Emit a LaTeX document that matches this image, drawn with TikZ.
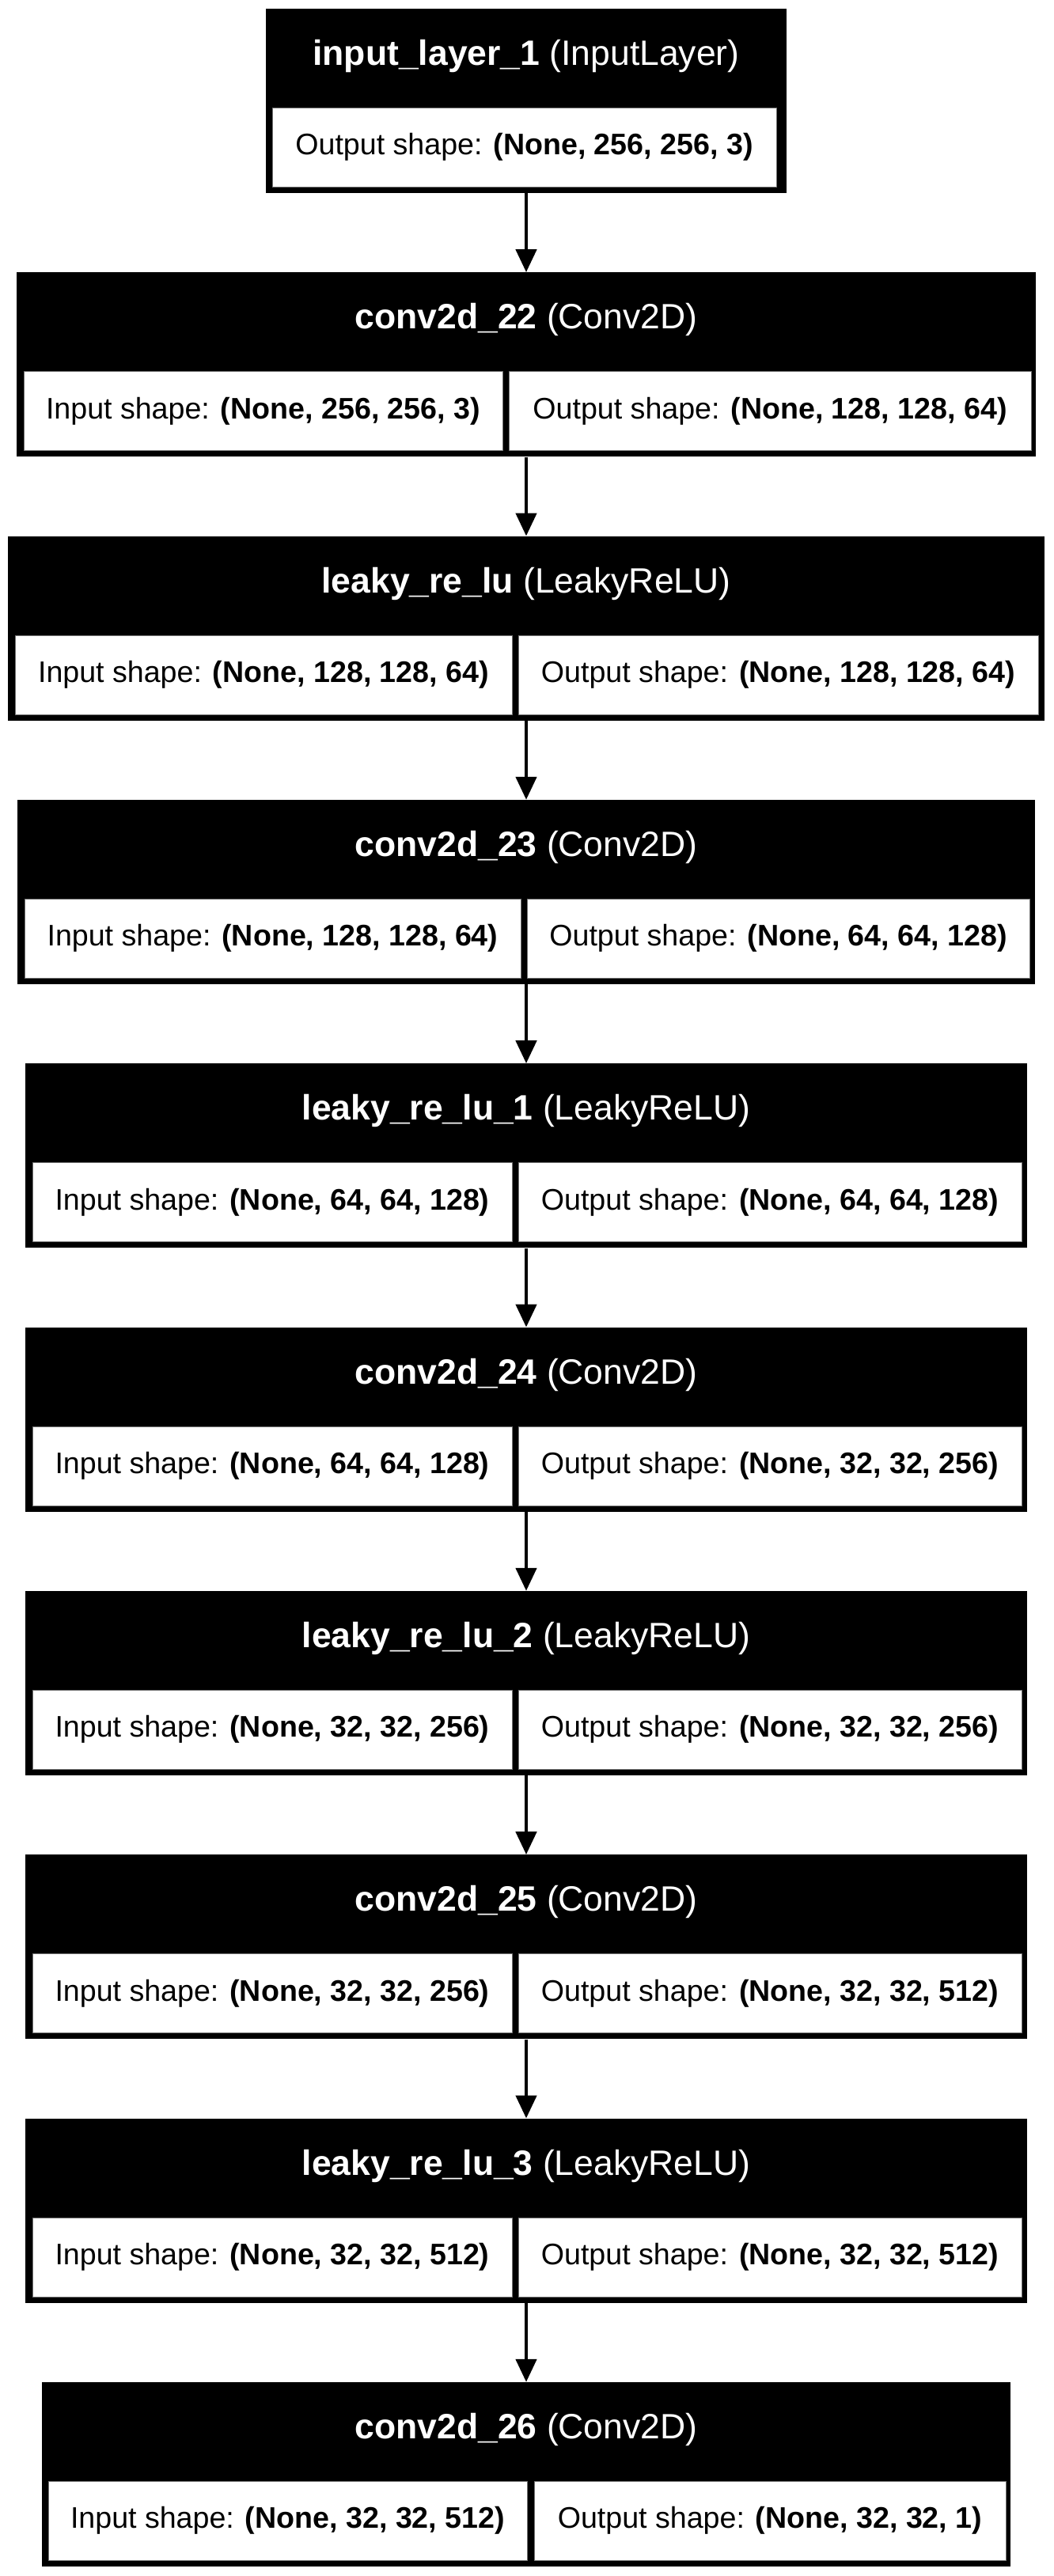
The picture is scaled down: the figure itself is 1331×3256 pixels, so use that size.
\documentclass[tikz,border=0pt]{standalone}
\usepackage{fontspec}
\setmainfont{Liberation Sans}
\usepackage{tikz}
\usetikzlibrary{arrows.meta, positioning}

\tikzset{
    x=1pt, y=-1pt,
    layerbox/.style={fill=black, inner sep=0pt, minimum height=233pt},
    headtext/.style={text=white, inner sep=0pt, anchor=base, font=\fontsize{44.5}{50}\selectfont},
    shapecell/.style={fill=white, draw=black!55, line width=1pt, inner sep=0pt,
        minimum height=100pt, text height=30pt, text depth=11.2pt, font=\fontsize{37.6}{44}\selectfont},
    seta/.style={-{Triangle[width=26pt,length=29pt]}, line width=4.7pt}
}

\begin{document}
\begin{tikzpicture}
    \fill[white] (0,0) rectangle (1331,3256);
    \useasboundingbox (0,0) rectangle (1331,3256);
    % Primeira camada:
    \begin{scope}
    \node[layerbox, minimum width=658pt] (l1) at (665,127.5) {};
    \node[headtext] (h1) at (665,82.6) {\textbf{input\_layer\_1} (InputLayer)};
    \node[shapecell, minimum width=637pt] (o1) at (662.5,186.3) {Output shape: \textbf{(None, 256, 256, 3)}};
    \end{scope}
    % Segunda camada:
    \begin{scope}[yshift=-333.3pt]
    \node[layerbox, minimum width=1288pt] (l2) at (665,127.5) {};
    \node[headtext] (h2) at (665,82.6) {\textbf{conv2d\_22} (Conv2D)};
    \node[shapecell, minimum width=605pt] (i2) at (332.5,186.3) {Input shape: \textbf{(None, 256, 256, 3)}};
    \node[shapecell, minimum width=660pt] (o2) at (973,186.3) {Output shape: \textbf{(None, 128, 128, 64)}};
    \end{scope}
    % Terceira camada:
    \begin{scope}[yshift=-666.7pt]
    \node[layerbox, minimum width=1310pt] (l3) at (665,127.5) {};
    \node[headtext] (h3) at (665,82.6) {\textbf{leaky\_re\_lu} (LeakyReLU)};
    \node[shapecell, minimum width=628pt] (i3) at (333,186.3) {Input shape: \textbf{(None, 128, 128, 64)}};
    \node[shapecell, minimum width=657pt] (o3) at (983.5,186.3) {Output shape: \textbf{(None, 128, 128, 64)}};
    \end{scope}
    % Quarta camada:
    \begin{scope}[yshift=-1000pt]
    \node[layerbox, minimum width=1286pt] (l4) at (665,127.5) {};
    \node[headtext] (h4) at (665,82.6) {\textbf{conv2d\_23} (Conv2D)};
    \node[shapecell, minimum width=627pt] (i4) at (344.5,186.3) {Input shape: \textbf{(None, 128, 128, 64)}};
    \node[shapecell, minimum width=635pt] (o4) at (983.5,186.3) {Output shape: \textbf{(None, 64, 64, 128)}};
    \end{scope}
    % Quinta camada:
    \begin{scope}[yshift=-1333.3pt]
    \node[layerbox, minimum width=1266pt] (l5) at (665,127.5) {};
    \node[headtext] (h5) at (665,82.6) {\textbf{leaky\_re\_lu\_1} (LeakyReLU)};
    \node[shapecell, minimum width=606pt] (i5) at (344,186.3) {Input shape: \textbf{(None, 64, 64, 128)}};
    \node[shapecell, minimum width=636pt] (o5) at (973,186.3) {Output shape: \textbf{(None, 64, 64, 128)}};
    \end{scope}
    % Sexta camada:
    \begin{scope}[yshift=-1666.7pt]
    \node[layerbox, minimum width=1266pt] (l6) at (665,127.5) {};
    \node[headtext] (h6) at (665,82.6) {\textbf{conv2d\_24} (Conv2D)};
    \node[shapecell, minimum width=606pt] (i6) at (344,186.3) {Input shape: \textbf{(None, 64, 64, 128)}};
    \node[shapecell, minimum width=636pt] (o6) at (973,186.3) {Output shape: \textbf{(None, 32, 32, 256)}};
    \end{scope}
    % Sétima camada:
    \begin{scope}[yshift=-2000pt]
    \node[layerbox, minimum width=1266pt] (l7) at (665,127.5) {};
    \node[headtext] (h7) at (665,82.6) {\textbf{leaky\_re\_lu\_2} (LeakyReLU)};
    \node[shapecell, minimum width=606pt] (i7) at (344,186.3) {Input shape: \textbf{(None, 32, 32, 256)}};
    \node[shapecell, minimum width=636pt] (o7) at (973,186.3) {Output shape: \textbf{(None, 32, 32, 256)}};
    \end{scope}
    % Oitava camada:
    \begin{scope}[yshift=-2333.3pt]
    \node[layerbox, minimum width=1266pt] (l8) at (665,127.5) {};
    \node[headtext] (h8) at (665,82.6) {\textbf{conv2d\_25} (Conv2D)};
    \node[shapecell, minimum width=606pt] (i8) at (344,186.3) {Input shape: \textbf{(None, 32, 32, 256)}};
    \node[shapecell, minimum width=636pt] (o8) at (973,186.3) {Output shape: \textbf{(None, 32, 32, 512)}};
    \end{scope}
    % Nona camada:
    \begin{scope}[yshift=-2666.7pt]
    \node[layerbox, minimum width=1266pt] (l9) at (665,127.5) {};
    \node[headtext] (h9) at (665,82.6) {\textbf{leaky\_re\_lu\_3} (LeakyReLU)};
    \node[shapecell, minimum width=606pt] (i9) at (344,186.3) {Input shape: \textbf{(None, 32, 32, 512)}};
    \node[shapecell, minimum width=636pt] (o9) at (973,186.3) {Output shape: \textbf{(None, 32, 32, 512)}};
    \end{scope}
    % Décima camada:
    \begin{scope}[yshift=-3000pt]
    \node[layerbox, minimum width=1224pt] (l10) at (665,127.5) {};
    \node[headtext] (h10) at (665,82.6) {\textbf{conv2d\_26} (Conv2D)};
    \node[shapecell, minimum width=605pt] (i10) at (363.5,186.3) {Input shape: \textbf{(None, 32, 32, 512)}};
    \node[shapecell, minimum width=596pt] (o10) at (973,186.3) {Output shape: \textbf{(None, 32, 32, 1)}};
    \end{scope}
    % Setas:
    \draw[seta] (l1.south) -- (l2.north);
    \draw[seta] (l2.south) -- (l3.north);
    \draw[seta] (l3.south) -- (l4.north);
    \draw[seta] (l4.south) -- (l5.north);
    \draw[seta] (l5.south) -- (l6.north);
    \draw[seta] (l6.south) -- (l7.north);
    \draw[seta] (l7.south) -- (l8.north);
    \draw[seta] (l8.south) -- (l9.north);
    \draw[seta] (l9.south) -- (l10.north);
\end{tikzpicture}
\end{document}
